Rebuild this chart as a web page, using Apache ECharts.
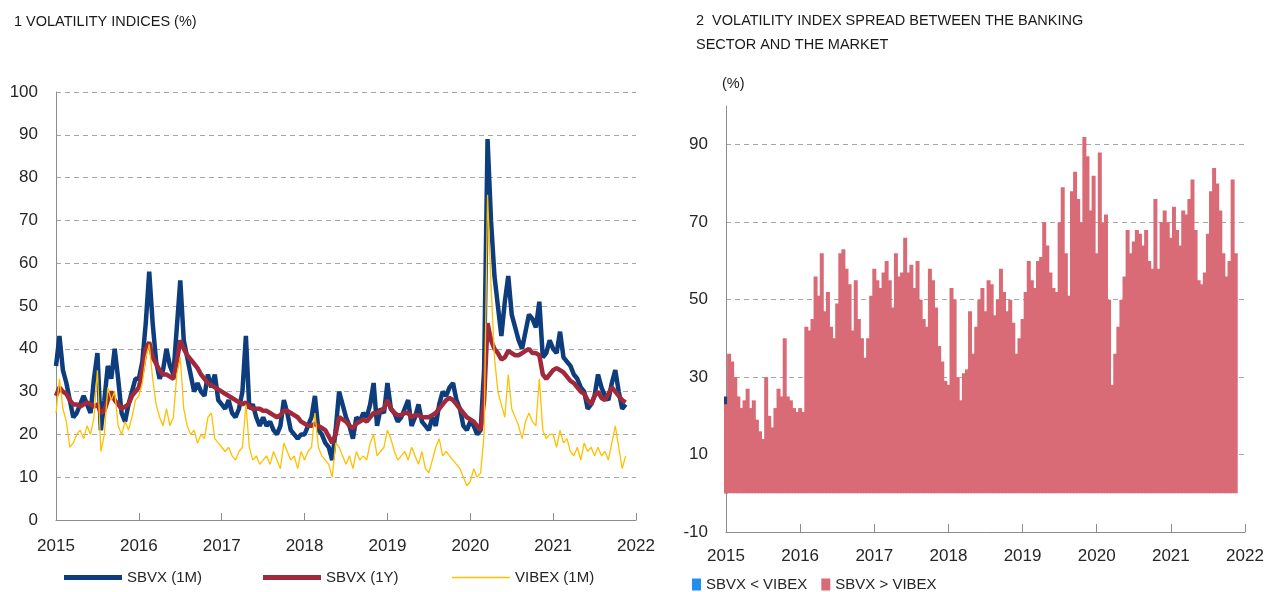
<!DOCTYPE html>
<html><head><meta charset="utf-8">
<script src="https://cdn.jsdelivr.net/npm/echarts@6/dist/echarts.min.js"></script>
<style>html,body{margin:0;padding:0;background:#fff}#c{width:1272px;height:592px}</style>
</head><body><div id="c"></div>
<script>
// Semi-monthly observations starting January 2015 (24 per year)
const startYear = 2015;
const periodsPerYear = 24;
const yearTicks = [2015, 2016, 2017, 2018, 2019, 2020, 2021, 2022];

const sbvx1m = [
  36,43,35,32,28,24,25,27,29,27,25,33,39,21,28,36,33,40,33,25,23,27,30,33,
  33,37,46,58,46,37,33,35,40,36,34,45,56,42,38,34,30,32,30,29,34,31,34,28,
  27,26,28,25,24,26,30,43,26,27,24,22,24,22,23,21,20,22,28,25,21,20,19,20,
  20,22,24,29,21,20,18,17,14,21,30,27,24,22,19,24,23,25,24,27,32,22,26,25,
  32,26,25,23,24,26,28,22,24,27,23,22,21,24,22,27,30,29,31,32,28,26,22,21,
  23,22,20,21,35,89,70,57,50,43,51,57,48,45,42,40,44,48,47,45,51,38,39,42,
  40,39,44,38,37,36,34,33,31,30,26,27,29,34,31,29,28,32,35,30,26,27
];
const sbvx1y = [
  29,31,30,29.5,28,27,27,26.5,27,27.5,27,26.5,27,25,25.5,28,30,28,27,26,26.5,27,29,30,
  31,35,40,41.5,38,36.5,35,34,34,33.5,33,37,42,40,38.5,37.5,36.5,35.5,34,33,32,31.5,31,30.5,
  30,29.5,29,28.5,28,27.5,27,27.5,26.5,26,26,26,25.5,25.5,25,24.5,24,24.5,25.5,25.5,25,24.5,24,23,
  22.5,22,22,22.5,22,21.5,21,19.5,18,20,24,23.5,23,22,21.5,22.5,23,23.5,23,24,25,25,25.5,26,
  28,26,25,24.5,24.5,25,25,24,24.5,24.5,24,24,24,24.5,25,26,27,28,28.5,28,27,26,25,24,
  23.5,23,22,21,28,46,42,40,39,37.5,38,39.5,39,38.5,38.5,39,39.5,40,39,39,38.5,34,33,34,
  35,35.5,35,34.5,33.5,32.5,32,31,30,29.5,28,27,29,30,28.5,28,29.5,31,30,29,28,27.5
];
const vibex1m = [
  25,33,26,23,17,18,20,21,19,22,20,24,35,16,20,31,28,30,22,20,23,21,24,28,
  29,32,38,41,33,27,24,22,26,22,24,34,38,26,22,20,21,18,20,19,24,25,19,18,
  17,16,17,15,14,16,17,27,17,14,15,13,14,15,13,16,14,12,18,16,14,15,12,16,
  14,16,17,25,17,15,14,13,10,18,17,15,13,15,12,16,14,15,14,18,20,15,16,17,
  21,19,16,14,15,16,14,17,15,13,16,12,11,14,17,19,15,16,15,14,13,12,10,8,
  9,12,10,11,20,76,55,38,30,27,24,34,26,24,22,19,23,25,23,22,33,21,19,20,
  20,17,21,18,19,16,15,17,14,18,16,17,15,17,15,16,14,18,22,17,12,15
];
// Spread between banking-sector and market volatility indices
const spreadAbove = [
  23,36,34,30,25,22,24,27,22,24,19,16,14,30,20,17,22,27,25,40,25,24,22,21,
  22,21,43,42,45,56,51,62,47,52,43,40,49,62,63,58,54,42,55,45,40,35,40,51,
  58,55,53,57,60,55,48,62,56,57,66,57,59,53,60,50,45,43,58,55,48,38,34,29,
  28,53,50,30,24,31,32,47,36,43,50,53,47,55,54,46,50,58,52,47,50,44,36,40,
  45,52,60,55,53,60,61,70,64,57,53,52,70,79,62,51,78,83,76,70,92,87,73,82,
  62,88,70,72,50,28,36,43,50,56,68,62,65,68,67,64,68,60,58,76,58,70,73,70,
  66,74,68,64,73,72,76,81,68,55,54,57,67,78,84,80,73,62,56,60,81,62
];
const spreadBelow = [25];

const tOf = i => startYear + i / periodsPerYear;
const pairs = arr => arr.map((v, i) => [tOf(i), v]);

const FONT = '"Liberation Sans", Arial, sans-serif';
const TXT = '#262626';
const AXC = '#8c8c8c';
const GRIDC = '#a6a6a6';
const C_1M = '#0d3d7d', C_1Y = '#a02a3c', C_VB = '#ffc000', C_POS = '#d96b77', C_NEG = '#1e8ff0';

const chart = echarts.init(document.getElementById('c'), null, {renderer: 'canvas'});

const xAxisCommon = {
  type: 'value', min: yearTicks[0], max: yearTicks[yearTicks.length - 1], interval: 1,
  axisLine: {show: true, onZero: false, lineStyle: {color: AXC, width: 1}},
  axisTick: {show: true, inside: true, length: 7, lineStyle: {color: AXC}},
  axisLabel: {formatter: v => String(v), fontSize: 17, color: TXT, fontFamily: FONT},
  splitLine: {show: false}
};
const legendText = {fontSize: 15, color: TXT, fontFamily: FONT};

chart.setOption({
  animation: false,
  textStyle: {fontFamily: FONT},
  title: [
    {text: '1 VOLATILITY INDICES (%)', left: 14, top: 13, padding: 0,
     textStyle: {fontSize: 14.5, fontWeight: 'normal', color: '#1a1a1a', fontFamily: FONT, lineHeight: 18}},
    {text: '2  VOLATILITY INDEX SPREAD BETWEEN THE BANKING\nSECTOR AND THE MARKET', left: 696, top: 9, padding: 0,
     textStyle: {fontSize: 14.5, fontWeight: 'normal', color: '#1a1a1a', fontFamily: FONT, lineHeight: 24}},
    {text: '(%)', left: 722, top: 75, padding: 0,
     textStyle: {fontSize: 14.5, fontWeight: 'normal', color: '#1a1a1a', fontFamily: FONT, lineHeight: 18}}
  ],
  grid: [
    {left: 56, top: 92, width: 580, height: 428},
    {left: 726, top: 106, width: 519, height: 426}
  ],
  xAxis: [
    Object.assign({}, xAxisCommon, {gridIndex: 0, axisLabel: Object.assign({}, xAxisCommon.axisLabel, {margin: 18})}),
    Object.assign({}, xAxisCommon, {gridIndex: 1, axisTick: {show: true, inside: true, length: 8, lineStyle: {color: AXC}},
      axisLabel: Object.assign({}, xAxisCommon.axisLabel, {margin: 16})})
  ],
  yAxis: [
    {type: 'value', gridIndex: 0, min: 0, max: 100, interval: 10,
     axisLine: {show: true, lineStyle: {color: AXC}}, axisTick: {show: false},
     axisLabel: {fontSize: 17, color: TXT, margin: 18, fontFamily: FONT},
     splitLine: {show: true, showMinLine: false, lineStyle: {color: GRIDC, type: [5, 4], width: 1}}},
    {type: 'value', gridIndex: 1, min: -10, max: 100, interval: 20,
     axisLine: {show: true, lineStyle: {color: AXC}}, axisTick: {show: false},
     axisLabel: {fontSize: 17, color: TXT, margin: 18, fontFamily: FONT, showMaxLabel: false},
     splitLine: {show: true, showMinLine: false, showMaxLine: false, lineStyle: {color: GRIDC, type: [5, 4], width: 1}}}
  ],
  legend: [
    {data: [{name: 'SBVX (1M)', icon: 'rect'}, {name: 'SBVX (1Y)', icon: 'rect'}], left: 59, top: 570, padding: [0, 5],
     itemWidth: 58, itemHeight: 5, itemGap: 61, textStyle: legendText, selectedMode: false},
    {data: [{name: 'VIBEX (1M)', icon: 'rect'}], left: 447, top: 570, padding: [0, 5],
     itemWidth: 58, itemHeight: 1.5, itemGap: 58, textStyle: legendText, selectedMode: false},
    {data: ['SBVX < VIBEX', 'SBVX > VIBEX'], left: 687, top: 577, padding: [0, 5], itemWidth: 9, itemHeight: 12, itemGap: 14, icon: 'rect',
     textStyle: legendText, selectedMode: false}
  ],
  series: [
    {name: 'SBVX (1M)', type: 'line', xAxisIndex: 0, yAxisIndex: 0, data: pairs(sbvx1m),
     symbol: 'none', showSymbol: false, lineStyle: {width: 4.5, color: C_1M}, itemStyle: {color: C_1M}},
    {name: 'SBVX (1Y)', type: 'line', xAxisIndex: 0, yAxisIndex: 0, data: pairs(sbvx1y),
     symbol: 'none', showSymbol: false, lineStyle: {width: 4.5, color: C_1Y}, itemStyle: {color: C_1Y}},
    {name: 'VIBEX (1M)', type: 'line', xAxisIndex: 0, yAxisIndex: 0, data: pairs(vibex1m),
     symbol: 'none', showSymbol: false, lineStyle: {width: 1.3, color: C_VB}, itemStyle: {color: C_VB}},
    {name: 'SBVX < VIBEX', type: 'bar', xAxisIndex: 1, yAxisIndex: 1,
     data: pairs(spreadBelow).map(p => ({value: p, itemStyle: {color: '#1f3f7a'}})),
     barWidth: 4, barGap: '-100%', itemStyle: {color: C_NEG}},
    {name: 'SBVX > VIBEX', type: 'bar', xAxisIndex: 1, yAxisIndex: 1, data: pairs(spreadAbove),
     barWidth: 4, barGap: '-100%', itemStyle: {color: C_POS}}
  ]
});
</script></body></html>
